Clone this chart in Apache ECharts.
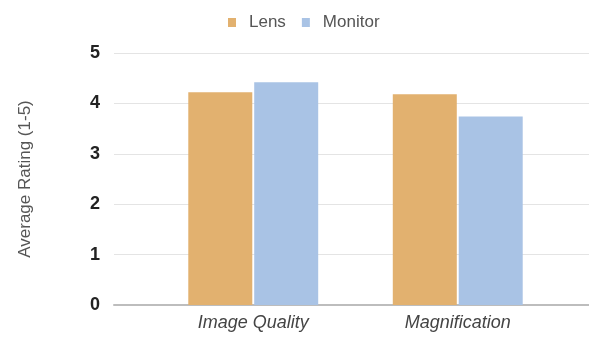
<!DOCTYPE html>
<html>
<head>
<meta charset="utf-8">
<script src="https://cdn.jsdelivr.net/npm/echarts@6/dist/echarts.min.js"></script>
<style>
  html, body { margin: 0; padding: 0; background: #fff; }
  #chart { width: 589px; height: 339px; }
</style>
</head>
<body>
<div id="chart"></div>
<script>
// Average rating per aspect, by viewing method
const categories = ['Image Quality', 'Magnification'];
const lensValues = [4.22, 4.18];
const monitorValues = [4.42, 3.74];
const seriesNames = ['Lens', 'Monitor'];
const yTicks = { min: 0, max: 5, interval: 1 };

const FONT = '"Liberation Sans", Arial, sans-serif';
const chart = echarts.init(document.getElementById('chart'), null, { renderer: 'canvas' });

chart.setOption({
  animation: false,
  backgroundColor: '#ffffff',
  legend: {
    data: seriesNames,
    top: 9,
    left: 223,
    itemWidth: 8,
    itemHeight: 9,
    itemGap: 16,
    icon: 'rect',
    textStyle: { fontFamily: FONT, fontSize: 17, color: '#555', padding: [0, 0, 0, 8] }
  },
  grid: [
    // plot frame: gridlines, value axis and baseline
    { left: 114, right: 0, top: 53, bottom: 34 },
    // bar area
    { left: 151, width: 409, top: 53, bottom: 34 }
  ],
  xAxis: [
    {
      gridIndex: 0, type: 'category', data: categories,
      axisLine: { show: true, lineStyle: { color: '#bdbdbd', width: 2 } },
      axisTick: { show: false }, axisLabel: { show: false }, splitLine: { show: false }
    },
    {
      gridIndex: 1, type: 'category', data: categories,
      axisLine: { show: false }, axisTick: { show: false },
      axisLabel: {
        margin: 9,
        fontFamily: FONT, fontSize: 18, fontStyle: 'italic', color: '#444'
      }
    }
  ],
  yAxis: [
    {
      gridIndex: 0, type: 'value',
      min: yTicks.min, max: yTicks.max, interval: yTicks.interval,
      name: 'Average Rating (1-5)', nameLocation: 'middle', nameGap: 80,
      nameTextStyle: { fontFamily: FONT, fontSize: 17, color: '#555' },
      axisLine: { show: false }, axisTick: { show: false },
      axisLabel: { margin: 14, fontFamily: FONT, fontSize: 18, fontWeight: 'bold', color: '#222' },
      splitLine: { lineStyle: { color: '#e4e4e4', width: 1 } }
    },
    {
      gridIndex: 1, type: 'value',
      min: yTicks.min, max: yTicks.max, interval: yTicks.interval,
      show: false, splitLine: { show: false }
    }
  ],
  series: [
    {
      name: seriesNames[0], type: 'bar', xAxisIndex: 1, yAxisIndex: 1,
      data: lensValues, barWidth: 64, barGap: '3%',
      itemStyle: { color: '#e2b16f' }
    },
    {
      name: seriesNames[1], type: 'bar', xAxisIndex: 1, yAxisIndex: 1,
      data: monitorValues, barWidth: 64, barGap: '3%',
      itemStyle: { color: '#a9c3e5' }
    }
  ]
});
</script>
</body>
</html>
